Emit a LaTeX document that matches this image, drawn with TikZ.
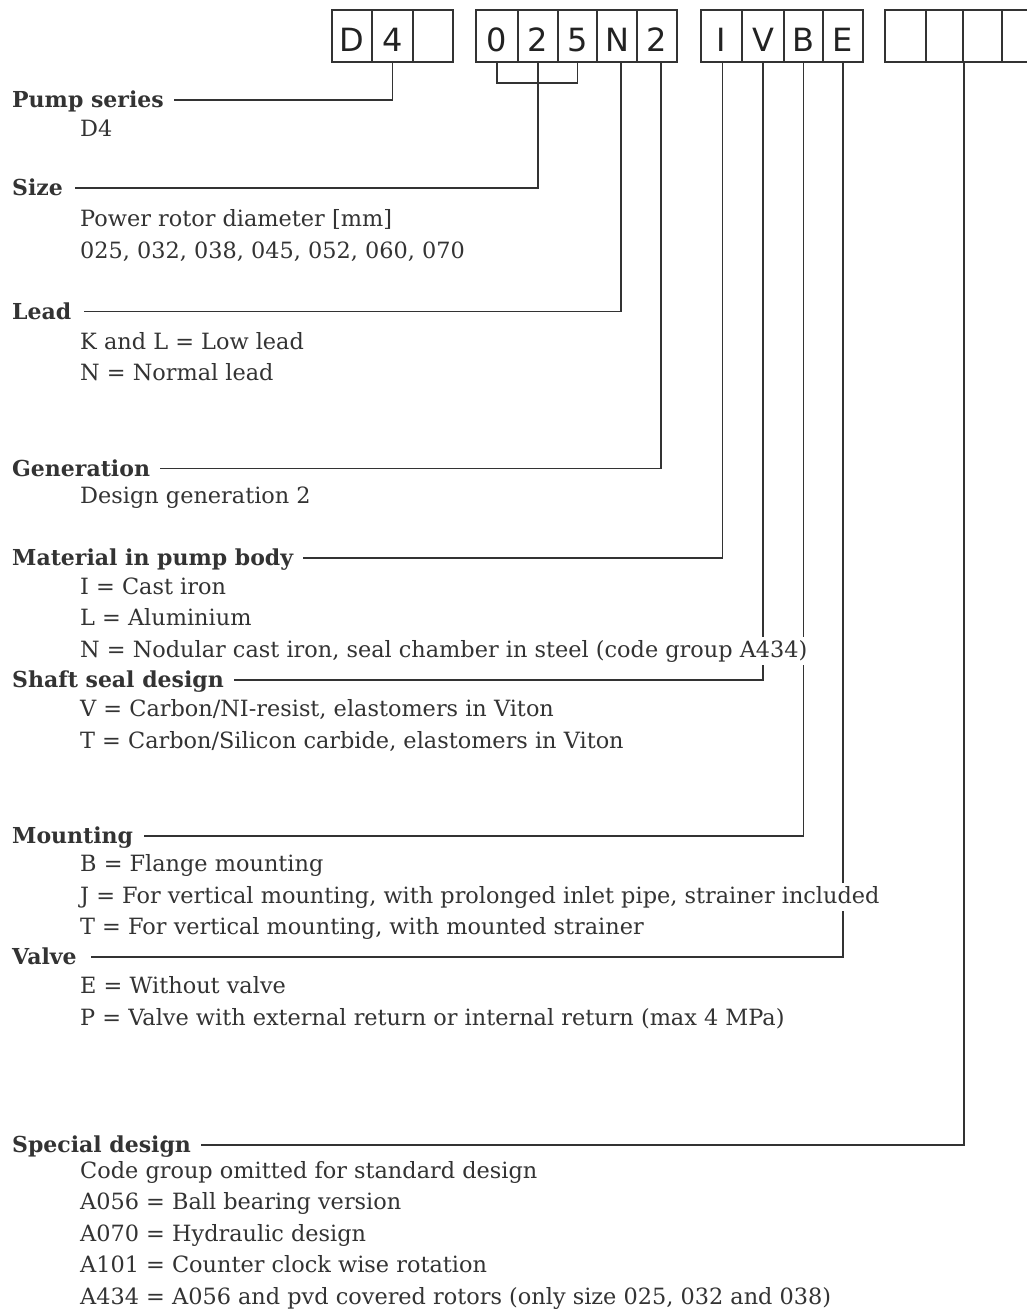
\documentclass[tikz,border=0pt]{standalone}
\usepackage{fontspec}
\setmainfont{DejaVu Serif}
\newfontfamily\boxfont{DejaVu Sans}
\definecolor{ink}{HTML}{333333}
\definecolor{boxink}{HTML}{222222}
\begin{document}
\begin{tikzpicture}[x=1pt,y=-1pt,
  cell/.style={draw=ink, line width=1.8pt, minimum height=52pt, inner sep=0pt,
    text height=38pt, text depth=7pt, font=\boxfont\fontsize{32}{32}\selectfont, text=boxink},
  head/.style={anchor=west, inner sep=0pt, text height=15.8pt, text depth=0pt,
    font=\bfseries\fontsize{22}{26}\selectfont, text=ink},
  body/.style={anchor=base west, fill=white, inner xsep=1pt, inner ysep=3pt,
    font=\fontsize{22.4}{26}\selectfont, text=ink},
  conn/.style={draw=ink, line width=1.5pt}]
\useasboundingbox (0,0) rectangle (1026,1312);
% code boxes
\node[cell, minimum width=40pt] (g1a) at (352,36) {D};
\node[cell, minimum width=41pt] (g1b) at (392.5,36) {4};
\node[cell, minimum width=40pt] (g1c) at (433,36) {};
\node[cell, minimum width=42pt] (g2a) at (497,36) {0};
\node[cell, minimum width=40pt] (g2b) at (538,36) {2};
\node[cell, minimum width=39pt] (g2c) at (577.5,36) {5};
\node[cell, minimum width=40pt] (g2d) at (617,36) {N};
\node[cell, minimum width=40pt] (g2e) at (657,36) {2};
\node[cell, minimum width=41pt] (g3a) at (721.5,36) {I};
\node[cell, minimum width=42pt] (g3b) at (763,36) {V};
\node[cell, minimum width=39pt] (g3c) at (803.5,36) {B};
\node[cell, minimum width=40pt] (g3d) at (843,36) {E};
\node[cell, minimum width=41pt] (g4a) at (905.5,36) {};
\node[cell, minimum width=37pt] (g4b) at (944.5,36) {};
\node[cell, minimum width=39pt] (g4c) at (982.5,36) {};
\node[cell, minimum width=40pt] (g4d) at (1022,36) {};
% headings
\node[head] (hps) at (12,100) {Pump series};
\node[head] (hsize) at (12,188) {Size};
\node[head] (hlead) at (12,311.5) {Lead};
\node[head] (hgen) at (12,468.5) {Generation};
\node[head] (hmat) at (12,558) {Material in pump body};
\node[head] (hshaft) at (12,680) {Shaft seal design};
\node[head] (hmount) at (12,836) {Mounting};
\node[head] (hvalve) at (12,957) {Valve};
\node[head] (hspec) at (12,1145) {Special design};
% connectors
\draw[conn] (g1b.south) |- ([xshift=10pt]hps.east);
\draw[conn] (g2a.south) -- ++(0,20) -| (g2c.south);
\draw[conn] (g2b.south) |- ([xshift=12pt]hsize.east);
\draw[conn] ([xshift=4pt]g2d.south) |- ([xshift=12pt]hlead.east);
\draw[conn] ([xshift=4pt]g2e.south) |- ([xshift=10pt]hgen.east);
\draw[conn] ([xshift=1pt]g3a.south) |- ([xshift=10pt]hmat.east);
\draw[conn] (g3b.south) |- ([xshift=10pt]hshaft.east);
\draw[conn] (g3c.south) |- ([xshift=11pt]hmount.east);
\draw[conn] (g3d.south) |- ([xshift=14pt]hvalve.east);
\draw[conn] (g4b.south east) |- ([xshift=10pt]hspec.east);
% body texts
\node[body] (t1) at (79,136) {D4};
\node[body] (t2) at (79,226.5) {Power rotor diameter [mm]};
\node[body] (t3) at (79,258) {025, 032, 038, 045, 052, 060, 070};
\node[body] (t4) at (79,349) {K and L = Low lead};
\node[body] (t5) at (79,380.5) {N = Normal lead};
\node[body] (t6) at (79,503) {Design generation 2};
\node[body] (t7) at (79,594) {I = Cast iron};
\node[body] (t8) at (79,625.5) {L = Aluminium};
\node[body] (t9) at (79,657) {N = Nodular cast iron, seal chamber in steel (code group A434)};
\node[body] (t10) at (79,716.5) {V = Carbon/NI-resist, elastomers in Viton};
\node[body] (t11) at (79,748) {T = Carbon/Silicon carbide, elastomers in Viton};
\node[body] (t12) at (79,871.5) {B = Flange mounting};
\node[body] (t13) at (79,903) {J = For vertical mounting, with prolonged inlet pipe, strainer included};
\node[body] (t14) at (79,934.5) {T = For vertical mounting, with mounted strainer};
\node[body] (t15) at (79,993.5) {E = Without valve};
\node[body] (t16) at (79,1025) {P = Valve with external return or internal return (max 4 MPa)};
\node[body] (t17) at (79,1178) {Code group omitted for standard design};
\node[body] (t18) at (79,1209.5) {A056 = Ball bearing version};
\node[body] (t19) at (79,1241) {A070 = Hydraulic design};
\node[body] (t20) at (79,1272.5) {A101 = Counter clock wise rotation};
\node[body] (t21) at (79,1304) {A434 = A056 and pvd covered rotors (only size 025, 032 and 038)};
\end{tikzpicture}
\end{document}
